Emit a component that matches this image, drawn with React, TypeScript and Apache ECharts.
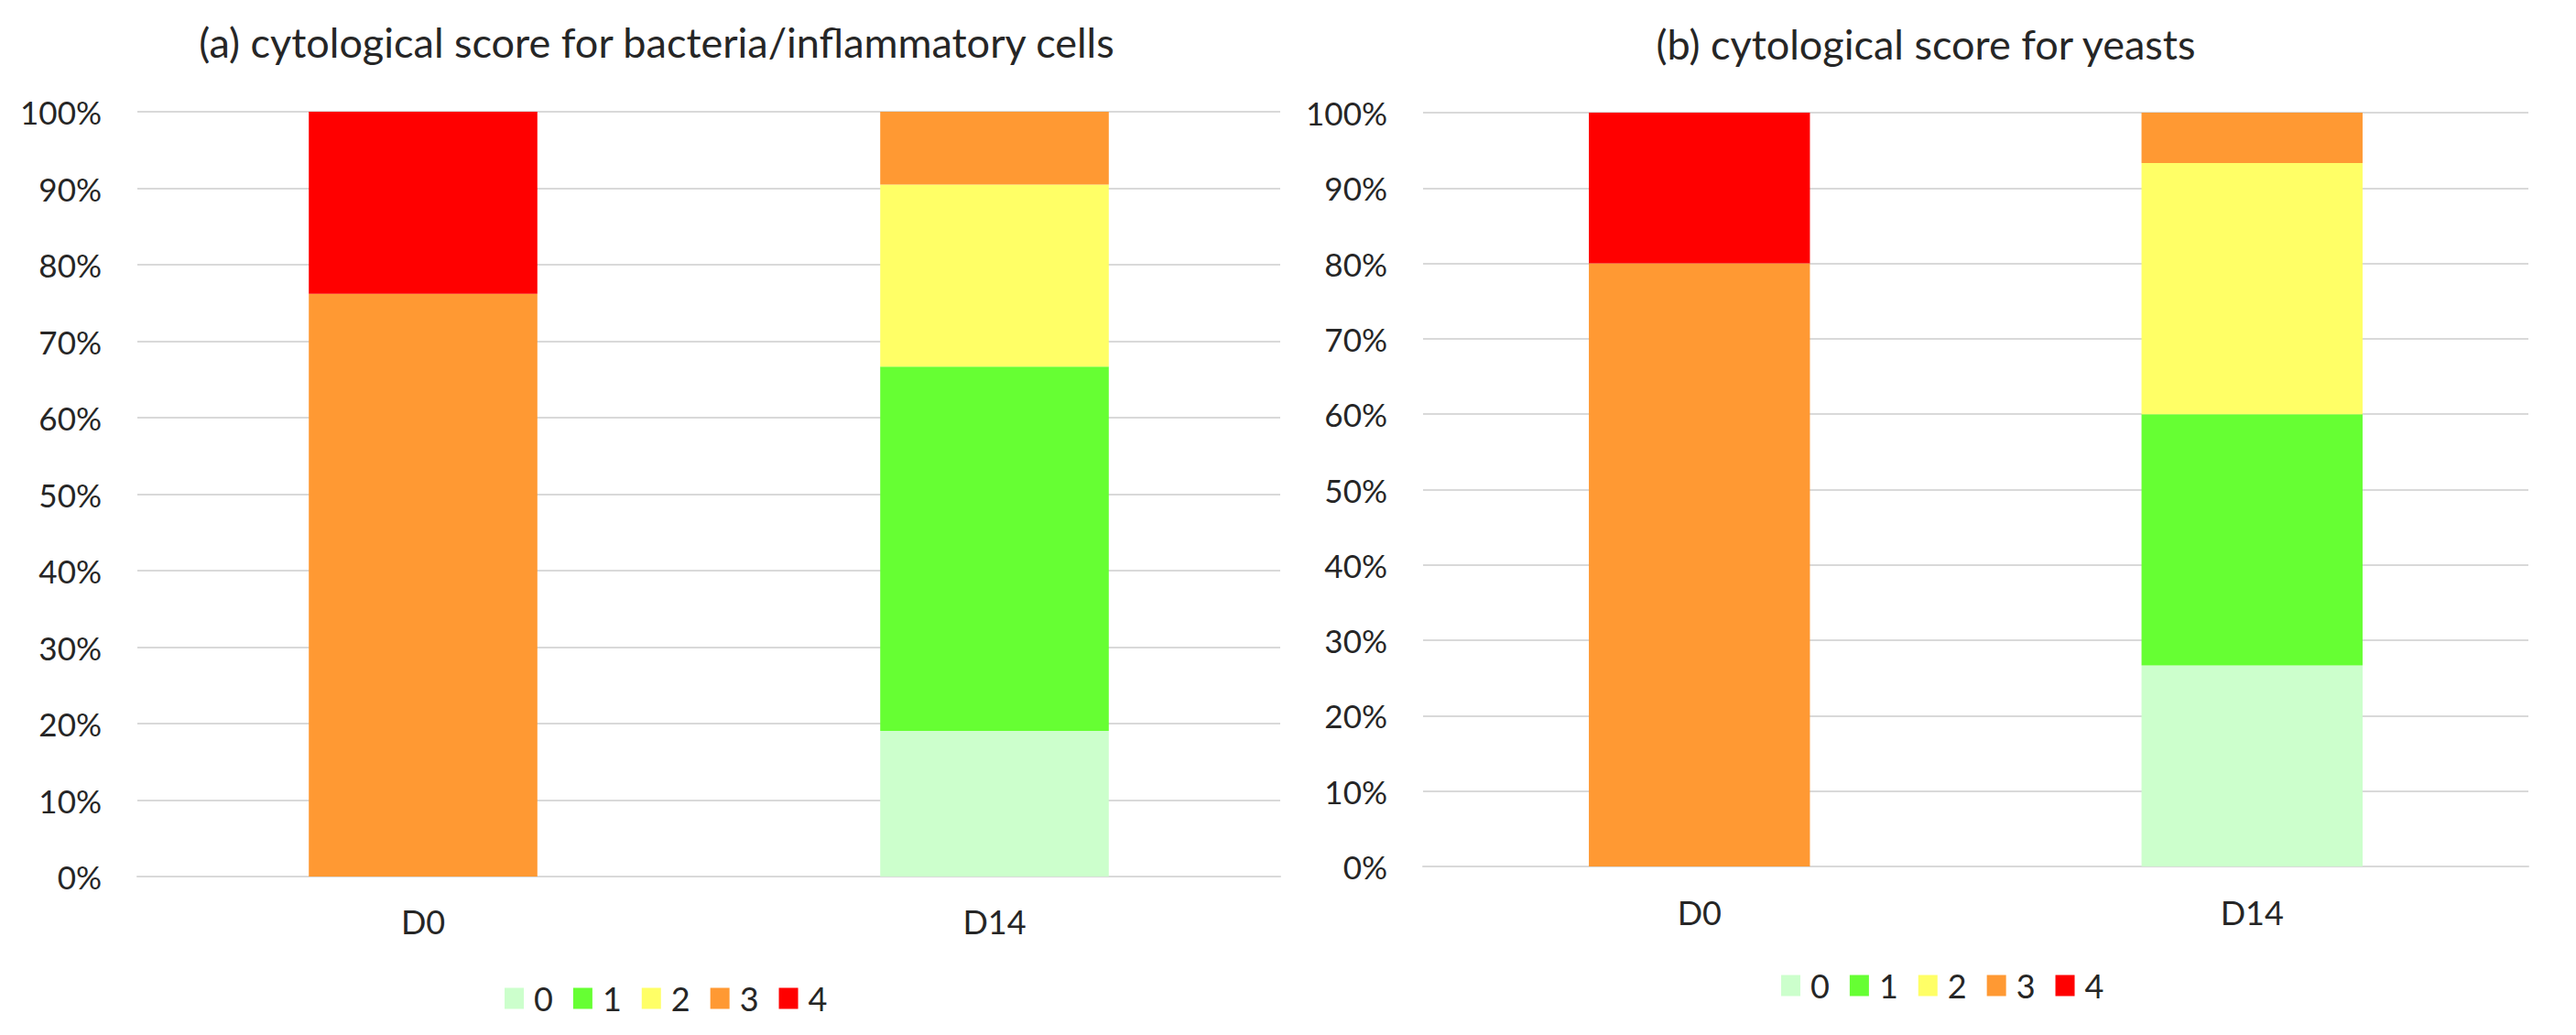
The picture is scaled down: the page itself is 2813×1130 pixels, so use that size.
import React, { useEffect, useRef } from "react";
import * as echarts from "echarts";

const categories = ["D0", "D14"];
const scoreNames = ["0", "1", "2", "3", "4"];
const scoreColors = ["#CCFFCC", "#66FF33", "#FFFF66", "#FF9933", "#FF0000"];

// (a) bacteria / inflammatory cells, % of dogs per score
const bacteriaScore0 = [0, 19.05];
const bacteriaScore1 = [0, 47.62];
const bacteriaScore2 = [0, 23.81];
const bacteriaScore3 = [76.19, 9.52];
const bacteriaScore4 = [23.81, 0];

// (b) yeasts, % of dogs per score
const yeastScore0 = [0, 26.67];
const yeastScore1 = [0, 33.33];
const yeastScore2 = [0, 33.33];
const yeastScore3 = [80, 6.67];
const yeastScore4 = [20, 0];

const titleA = "(a) cytological score for bacteria/inflammatory cells";
const titleB = "(b) cytological score for yeasts";

const FONT = "Lato";
const TEXT = "#262626";
const GRID = "#D9D9D9";

export default function App() {
  const ref = useRef<HTMLDivElement>(null);

  useEffect(() => {
    if (!ref.current) return;
    const chart = echarts.init(ref.current, null, { renderer: "svg" });

    const bacteria = [bacteriaScore0, bacteriaScore1, bacteriaScore2, bacteriaScore3, bacteriaScore4];
    const yeast = [yeastScore0, yeastScore1, yeastScore2, yeastScore3, yeastScore4];

    const grids = [
      { left: 150, top: 122, width: 1248, height: 835 },
      { left: 1554, top: 123, width: 1207, height: 823 },
    ];

    const xAxis = [0, 1].map((i) => ({
      type: "category",
      gridIndex: i,
      data: categories,
      axisTick: { show: false },
      axisLine: { show: true, lineStyle: { color: GRID, width: 2 } },
      axisLabel: {
        margin: i === 0 ? 31 : 32,
        color: TEXT,
        fontFamily: FONT,
        fontSize: 36,
      },
    }));

    const yAxis = [0, 1].map((i) => ({
      type: "value",
      gridIndex: i,
      min: 0,
      max: 100,
      interval: 10,
      axisLine: { show: false },
      axisTick: { show: false },
      splitLine: { lineStyle: { color: GRID, width: 2 } },
      axisLabel: {
        formatter: "{value}%",
        margin: 39,
        color: TEXT,
        fontFamily: FONT,
        fontSize: 35,
      },
    }));

    const series: any[] = [];
    [bacteria, yeast].forEach((set, gi) => {
      set.forEach((values, si) => {
        series.push({
          type: "bar",
          name: scoreNames[si],
          xAxisIndex: gi,
          yAxisIndex: gi,
          stack: "s" + gi,
          data: values,
          barCategoryGap: "60%",
          itemStyle: { color: scoreColors[si] },
        });
      });
    });

    const legendBase = {
      orient: "horizontal",
      data: scoreNames,
      icon: "rect",
      itemWidth: 21,
      itemHeight: 23,
      itemGap: 22,
      selectedMode: false,
      textStyle: {
        color: TEXT,
        fontFamily: FONT,
        fontSize: 36,
        padding: [0, 0, 0, 6],
      },
    };

    chart.setOption({
      animation: false,
      backgroundColor: "#ffffff",
      grid: grids,
      xAxis,
      yAxis,
      series,
      legend: [
        { ...legendBase, left: 546, top: 1067 },
        { ...legendBase, left: 1940, top: 1053 },
      ],
      graphic: [
        {
          type: "text",
          x: 717,
          y: 46,
          style: {
            text: titleA,
            align: "center",
            verticalAlign: "middle",
            fill: TEXT,
            fontFamily: FONT,
            fontSize: 45,
          },
        },
        {
          type: "text",
          x: 2103,
          y: 48,
          style: {
            text: titleB,
            align: "center",
            verticalAlign: "middle",
            fill: TEXT,
            fontFamily: FONT,
            fontSize: 45,
          },
        },
      ],
    });

    return () => chart.dispose();
  }, []);

  return (
    <div
      ref={ref}
      style={{ position: "absolute", left: 0, top: 0, width: 2813, height: 1130 }}
    />
  );
}
